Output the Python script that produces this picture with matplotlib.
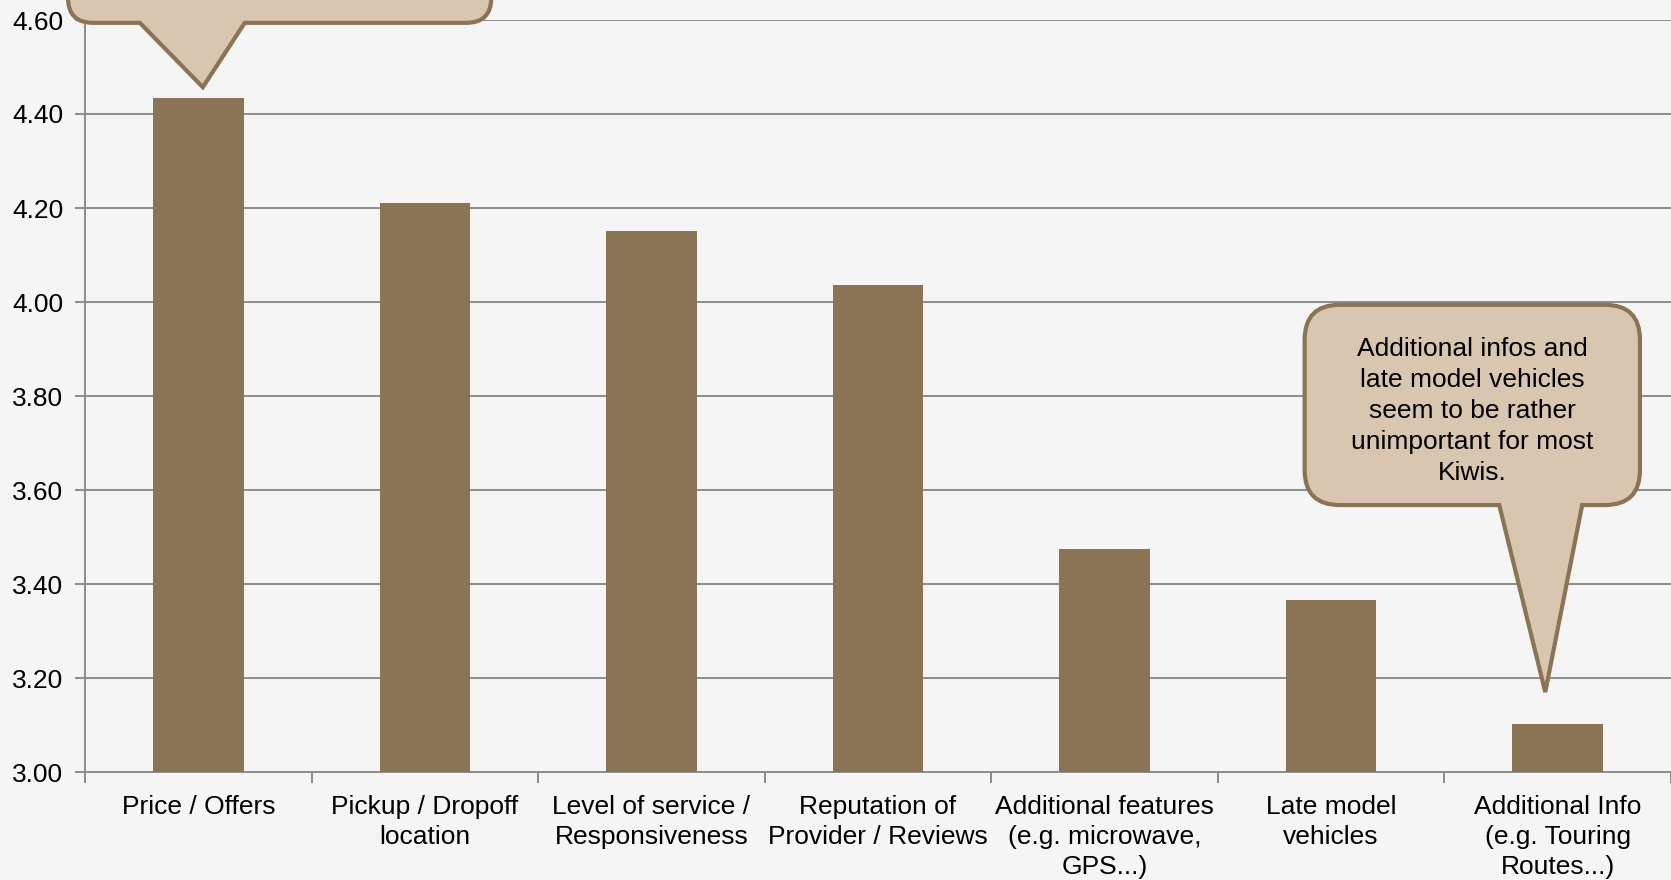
import matplotlib.pyplot as plt
from matplotlib.path import Path
from matplotlib.patches import PathPatch
import numpy as np

plt.rcParams['font.family'] = ['Liberation Sans', 'DejaVu Sans']

categories = ["Price / Offers", "Pickup / Dropoff\nlocation", "Level of service /\nResponsiveness",
              "Reputation of\nProvider / Reviews", "Additional features\n(e.g. microwave,\nGPS...)",
              "Late model\nvehicles", "Additional Info\n(e.g. Touring\nRoutes...)"]
scores = [4.435, 4.21, 4.151, 4.036, 3.474, 3.367, 3.102]
y_ticks = [3.0, 3.2, 3.4, 3.6, 3.8, 4.0, 4.2, 4.4, 4.6]
note_right = "Additional infos and\nlate model vehicles\nseem to be rather\nunimportant for most\nKiwis."

bar_col = "#8b7355"
bubble_fill = "#d9c6b0"
grid_col = "#8c8c8c"
fs = 19

fig = plt.figure(figsize=(16.71, 8.80), dpi=100)
fig.patch.set_facecolor("#f5f5f5")
ax = fig.add_axes([85/1671, 1-772/880, 1-85/1671, (772-20)/880])
ax.set_facecolor("#f5f5f5")

x = np.arange(len(categories))
ax.bar(x, scores, width=0.4, color=bar_col, zorder=3)

ax.set_xlim(-0.5, len(categories)-0.5)
ax.set_ylim(3.0, 4.6)
ax.set_yticks(y_ticks)
ax.set_yticklabels(["%.2f" % v for v in y_ticks])
ax.yaxis.grid(True, color=grid_col, linewidth=1.4, zorder=0)
ax.set_axisbelow(True)

ax.set_xticks(x)
ax.set_xticklabels(categories, linespacing=1.32)
ax.set_xticks(np.arange(len(categories)+1)-0.5, minor=True)
ax.tick_params(axis='x', which='major', length=0, pad=16.5, labelsize=fs)
ax.tick_params(axis='x', which='minor', length=8, width=1.4, color=grid_col, direction='out')
ax.tick_params(axis='y', length=7, width=1.4, color=grid_col, pad=8.5, labelsize=fs)

for s in ['top', 'right']:
    ax.spines[s].set_visible(False)
for s in ['left', 'bottom']:
    ax.spines[s].set_color(grid_col)
    ax.spines[s].set_linewidth(1.4)


def bubble(box, base, tip, r):
    # speech bubble in display pixels, pointer on bottom edge
    x0, yb, x1, yt = box
    b0, b1 = base
    tx, ty = tip
    verts = [(x0+r, yb), (b0, yb), (tx, ty), (b1, yb), (x1-r, yb),
             (x1, yb), (x1, yb+r), (x1, yt-r),
             (x1, yt), (x1-r, yt), (x0+r, yt),
             (x0, yt), (x0, yt-r), (x0, yb+r),
             (x0, yb), (x0+r, yb), (x0+r, yb)]
    codes = [Path.MOVETO, Path.LINETO, Path.LINETO, Path.LINETO, Path.LINETO,
             Path.CURVE3, Path.CURVE3, Path.LINETO,
             Path.CURVE3, Path.CURVE3, Path.LINETO,
             Path.CURVE3, Path.CURVE3, Path.LINETO,
             Path.CURVE3, Path.CURVE3, Path.CLOSEPOLY]
    p = PathPatch(Path(verts, codes), facecolor=bubble_fill, edgecolor=bar_col,
                  linewidth=3, transform=None, zorder=10, clip_on=False)
    fig.add_artist(p)


fig.canvas.draw()
T = ax.transData.transform

# left bubble, pointing at the top bar
bl = T((-0.575, 4.594)); br = T((1.293, 4.78))
p0 = T((-0.258, 0)); p1 = T((0.205, 0))
tip = T((0.02, scores[0] + 0.022))
bubble((bl[0], bl[1], br[0], br[1]), (p0[0], p1[0]), tip, 25)

# right bubble, pointing at the last bar
bl = T((4.883, 3.568)); br = T((6.363, 3.994))
p0 = T((5.742, 0)); p1 = T((6.108, 0))
tip = T((5.945, scores[6] + 0.068))
bubble((bl[0], bl[1], br[0], br[1]), (p0[0], p1[0]), tip, 35)
fig.text(5.623, 3.768, note_right, transform=ax.transData, ha='center', va='center',
         fontsize=fs, linespacing=1.38, zorder=11)

fig.savefig("out.png", dpi=100, facecolor=fig.get_facecolor())
